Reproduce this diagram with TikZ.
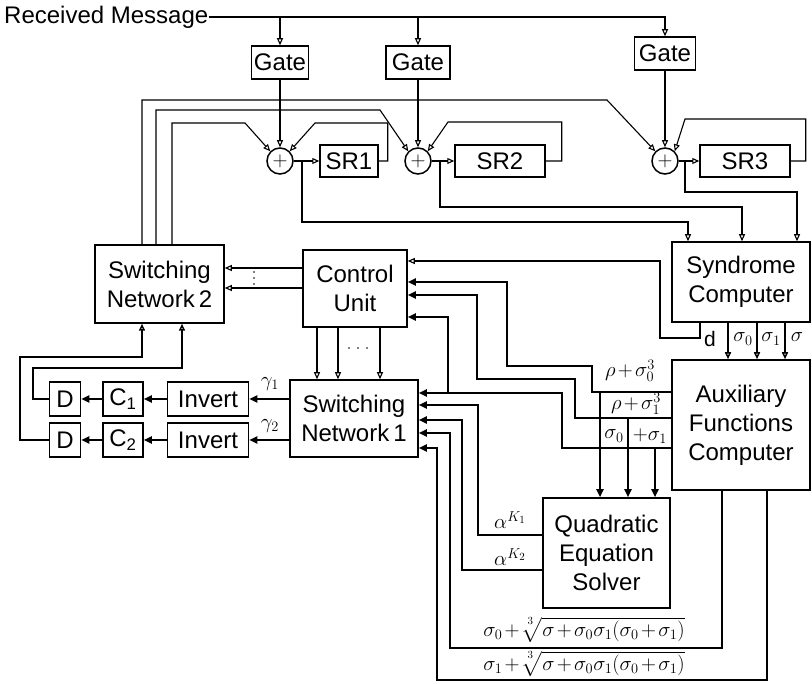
\documentclass[tikz,border=0pt]{standalone}
\usepackage{amsmath}
\usepackage{fontspec}
\setmainfont{Liberation Sans}
\usetikzlibrary{arrows.meta,calc}
\newcommand\bigfnt{\fontsize{24}{29}\selectfont}
\newcommand\labfnt{\fontsize{21}{24}\selectfont\medmuskip=2mu\thickmuskip=3mu}
\begin{document}
\begin{tikzpicture}[x=1pt,y=-1pt,
  box/.style={draw, line width=1.5pt, inner sep=2pt, align=center, font=\bigfnt},
  ln/.style={line width=1.1pt},
  md/.style={line width=1.5pt},
  tk/.style={line width=2.4pt},
  arr/.style={ln, -{Triangle[open, length=7pt, width=6pt]}},
  marr/.style={md, -{Triangle[open, length=7pt, width=6pt]}},
  tarr/.style={tk, -{Triangle[length=8pt, width=7pt]}},
  lab/.style={font=\labfnt, inner sep=0pt},
  adder/.style={circle, draw, line width=1.5pt, minimum size=26pt, inner sep=0pt, font=\labfnt},
  dotmark/.style={circle, fill, inner sep=0pt, minimum size=1.8pt},
  ]
\fill[white] (0,0) rectangle (812,684);
\useasboundingbox (0,0) rectangle (812,684);

% --- top row ---
\node[font=\bigfnt, anchor=west, inner sep=0pt] (rm) at (4,17) {Received Message};
\node[box, minimum width=57pt, minimum height=33pt] (g1) at (280,62.5) {Gate};
\node[box, minimum width=64pt, minimum height=33pt] (g2) at (418,62.5) {Gate};
\node[box, minimum width=61pt, minimum height=33pt] (g3) at (665,53.5) {Gate};

\node[adder] (c1) at (280,161) {$+$};
\node[adder] (c2) at (418,161) {$+$};
\node[adder] (c3) at (665,161) {$+$};

\node[box, minimum width=58pt, minimum height=32pt] (sr1) at (349,161) {SR1};
\node[box, minimum width=90pt, minimum height=32pt] (sr2) at (500,161) {SR2};
\node[box, minimum width=90pt, minimum height=32pt] (sr3) at (745,161) {SR3};

% --- main blocks ---
\node[box, minimum width=129pt, minimum height=78pt] (sn2) at (159.5,284) {Switching\\Network\,2};
\node[box, minimum width=104pt, minimum height=77pt] (cu) at (355,288.5) {Control\\Unit};
\node[box, minimum width=138pt, minimum height=80pt] (syn) at (741,282) {Syndrome\\Computer};
\node[box, minimum width=138pt, minimum height=130pt] (afc) at (741,425) {Auxiliary\\Functions\\Computer};
\node[box, minimum width=128pt, minimum height=77pt] (sn1) at (354,418.5) {Switching\\Network\,1};
\node[box, minimum width=127pt, minimum height=110pt] (qes) at (606.5,553) {Quadratic\\Equation\\Solver};

\node[box, minimum width=81pt, minimum height=34pt] (inv1) at (208,399) {Invert};
\node[box, minimum width=81pt, minimum height=34pt] (inv2) at (208,440) {Invert};
\node[box, minimum width=40pt, minimum height=34pt] (cb1) at (123,399) {C\textsubscript{1}};
\node[box, minimum width=40pt, minimum height=34pt] (cb2) at (123,440) {C\textsubscript{2}};
\node[box, minimum width=31pt, minimum height=34pt] (d1) at (65,399) {D};
\node[box, minimum width=31pt, minimum height=34pt] (d2) at (65,440) {D};

% --- received message distribution ---
\draw[arr] (rm.east) -| (g3.north);
\draw[arr] (rm.east -| g1.north) -- (g1.north);
\draw[arr] (rm.east -| g2.north) -- (g2.north);
\draw[arr] (g1) -- (c1);
\draw[arr] (g2) -- (c2);
\draw[arr] (g3) -- (c3);

% adders to shift registers and feedback
\draw[arr] (c1) -- (sr1);
\draw[arr] (c2) -- (sr2);
\draw[arr] (c3) -- (sr3);
\draw[arr] (sr1.east) -- ++(9,0) |- (315,123) -- (c1.north east);
\draw[arr] (sr2.east) -- ++(16,0) |- (448,122) -- (c2.north east);
\draw[arr] (sr3.east) -- ++(15,0) |- (685,119) -- (c3.north east);

% switching network 2 to adders
\draw[arr] (sn2.north -| 142,0) |- (607,100) -- (c3.north west);
\draw[arr] (sn2.north -| 156,0) |- (380,110) -- (c2.north west);
\draw[arr] (sn2.north -| 172,0) |- (245,123) -- (c1.north west);

% adders to syndrome computer
\coordinate (j1) at (302,161);
\coordinate (j2) at (440,161);
\coordinate (j3) at (685,161);
\draw[arr] (j1) -- (302,222) -| (syn.north -| 688,0);
\draw[arr] (j2) -- (440,207) -| (syn.north -| 742,0);
\draw[arr] (j3) -- (685,192) -| (syn.north -| 797,0);

% syndrome outputs
\draw[marr] (syn.south -| 728,0) -- (afc.north -| 728,0);
\draw[marr] (syn.south -| 757,0) -- (afc.north -| 757,0);
\draw[marr] (syn.south -| 785,0) -- (afc.north -| 785,0);
\node[lab] (ld) at (710,339) {d};
\node[lab] (ls0) at (743,339) {$\sigma_0$};
\node[lab] (ls1) at (771,339) {$\sigma_1$};
\node[lab] (ls) at (797,337) {$\sigma$};
\draw[arr] (syn.south -| 700,0) -- (700,338) -| (660,261) -- (cu.east |- 0,261);

% auxiliary functions outputs
\draw[tarr] (afc.west |- 0,392) -| (592,366) -| (507,282) -- (cu.east |- 0,282);
\draw[tarr] (600,392) -- (qes.north -| 600,0);
\draw[tarr] (afc.west |- 0,418) -| (575,379) -| (477,295) -- (cu.east |- 0,295);
\draw[tarr] (628,418) -- (qes.north -| 628,0);
\draw[tarr] (afc.west |- 0,448) -| (562,393) -- (sn1.east |- 0,393);
\draw[tarr] (448,393) |- (cu.east |- 0,317);
\draw[tarr] (655,448) -- (qes.north -| 655,0);
\node[lab] (lr0) at (630,371) {$\rho+\sigma_0^3$};
\node[lab] (lr1) at (636,404) {$\rho+\sigma_1^3$};
\node[lab] (lq0) at (614,436) {$\sigma_0$};
\node[lab] (lq1) at (650,436) {$+\sigma_1$};

% quadratic solver outputs
\draw[tarr] (qes.west |- 0,535) -| (478,405) -- (sn1.east |- 0,405);
\draw[tarr] (qes.west |- 0,570) -| (462,420) -- (sn1.east |- 0,420);
\node[lab] (lk1) at (510,520) {$\alpha^{K_1}$};
\node[lab] (lk2) at (510,557) {$\alpha^{K_2}$};

% cube-root outputs
\draw[tarr] (afc.south -| 722,0) |- (450,648) |- (sn1.east |- 0,433);
\draw[tarr] (afc.south -| 767,0) |- (437,680) |- (sn1.east |- 0,448);
\node[lab] (lc0) at (584,630) {$\sigma_0+\sqrt[\uproot{4}3]{\sigma+\sigma_0\sigma_1(\sigma_0+\sigma_1)}$};
\node[lab] (lc1) at (584,664) {$\sigma_1+\sqrt[\uproot{4}3]{\sigma+\sigma_0\sigma_1(\sigma_0+\sigma_1)}$};

% control unit outputs
\draw[arr] (cu.west |- 0,268) -- (sn2.east |- 0,268);
\draw[arr] (cu.west |- 0,288) -- (sn2.east |- 0,288);
\node[dotmark] (vd1) at (254,272) {};
\node[dotmark] (vd2) at (254,278) {};
\node[dotmark] (vd3) at (254,284) {};
\draw[arr] (cu.south -| 317,0) -- (sn1.north -| 317,0);
\draw[arr] (cu.south -| 338,0) -- (sn1.north -| 338,0);
\draw[arr] (cu.south -| 380,0) -- (sn1.north -| 380,0);
\node[dotmark] (hd1) at (349,348) {};
\node[dotmark] (hd2) at (358,348) {};
\node[dotmark] (hd3) at (367,348) {};

% switching network 1 to correction path
\draw[tarr] (sn1.west |- inv1) -- (inv1.east);
\draw[tarr] (sn1.west |- inv2) -- (inv2.east);
\node[lab] (lg1) at (270,384) {$\gamma_1$};
\node[lab] (lg2) at (270,426) {$\gamma_2$};
\draw[tarr] (inv1) -- (cb1);
\draw[tarr] (inv2) -- (cb2);
\draw[tarr] (cb1) -- (d1);
\draw[tarr] (cb2) -- (d2);
\draw[marr] (d1.west) -- (33,399) |- (182,368) -- (sn2.south -| 182,0);
\draw[marr] (d2.west) -- (20,440) |- (142,357) -- (sn2.south -| 142,0);
\end{tikzpicture}
\end{document}
